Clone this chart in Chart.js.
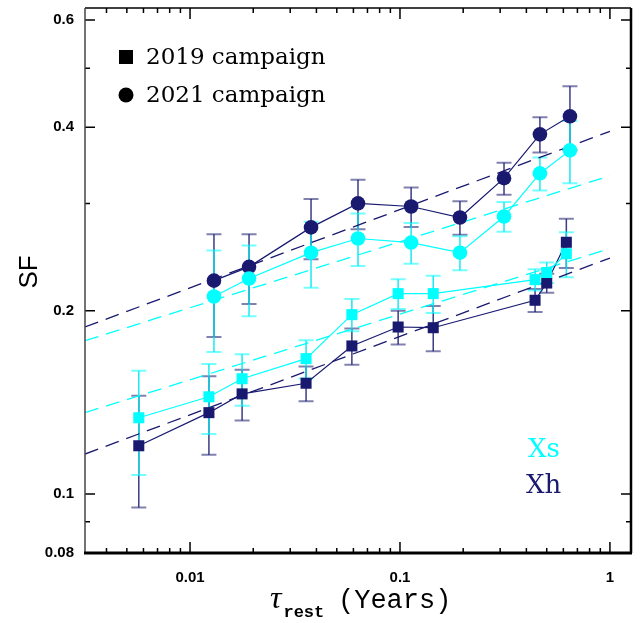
<!DOCTYPE html>
<html>
<head>
<meta charset="utf-8">
<script src="https://cdn.jsdelivr.net/npm/chart.js@4.4.0/dist/chart.umd.min.js"></script>
<style>
  html, body { margin: 0; padding: 0; background: #fff; }
  canvas { display: block; }
</style>
</head>
<body>
<canvas id="sf" width="643" height="623"></canvas>
<script>
// rest-frame time lags (years) for each campaign
const lag2019 = [0.0057, 0.0123, 0.0177, 0.0357, 0.059, 0.098, 0.144, 0.44, 0.50, 0.62];
const lag2021 = [0.0130, 0.0191, 0.0377, 0.0631, 0.113, 0.193, 0.313, 0.464, 0.645];

// structure function values and errors
const xh2019 = [0.120, 0.136, 0.146, 0.152, 0.175, 0.188, 0.1875, 0.208, 0.222, 0.259];
const xh2019Err = [0.025, 0.020, 0.014, 0.010, 0.012, 0.012, 0.016, 0.009, 0.008, 0.024];
const xs2019 = [0.1334, 0.1444, 0.1546, 0.1668, 0.197, 0.2133, 0.2133, 0.2249, 0.231, 0.248];
const xs2019Err = [0.026, 0.019, 0.015, 0.012, 0.012, 0.012, 0.015, 0.009, 0.009, 0.021];

const xh2021 = [0.224, 0.236, 0.274, 0.300, 0.2965, 0.2844, 0.330, 0.3895, 0.417];
const xh2021Err = [0.043, 0.031, 0.031, 0.028, 0.022, 0.018, 0.020, 0.026, 0.050];
const xs2021 = [0.211, 0.2258, 0.249, 0.2627, 0.2587, 0.249, 0.2855, 0.336, 0.3666];
const xs2021Err = [0.040, 0.030, 0.031, 0.026, 0.020, 0.016, 0.016, 0.021, 0.043];

// power-law fits, evaluated at the ends of the lag range
const fitLag = [0.00316, 1];
const fitXh2021 = [0.188, 0.394];
const fitXs2021 = [0.1785, 0.333];
const fitXs2019 = [0.136, 0.253];
const fitXh2019 = [0.1163, 0.244];

// axis ticks
const xMajor = [0.01, 0.1, 1];
const xTickLabels = ['0.01', '0.1', '1'];
const yMajor = [0.08, 0.1, 0.2, 0.4, 0.6];
const yTickLabels = ['0.08', '0.1', '0.2', '0.4', '0.6'];
const yMinor = [0.09, 0.3, 0.5];

const NAVY = '#191970';
const CYAN = '#00ffff';

const pts = (xs, ys) => xs.map((x, i) => ({ x: x, y: ys[i] }));

const xMinor = [];
[0.001, 0.01, 0.1].forEach(d => {
  for (let k = 2; k <= 9; k++) xMinor.push(d * k);
});

const errGroups = [
  { lag: lag2019, vals: xh2019, errs: xh2019Err, stem: 'rgba(25,25,112,0.85)', cap: 'rgba(25,25,112,0.55)' },
  { lag: lag2021, vals: xh2021, errs: xh2021Err, stem: 'rgba(25,25,112,0.85)', cap: 'rgba(25,25,112,0.55)' },
  { lag: lag2019, vals: xs2019, errs: xs2019Err, stem: 'rgba(0,230,240,0.9)', cap: 'rgba(0,255,255,0.55)' },
  { lag: lag2021, vals: xs2021, errs: xs2021Err, stem: 'rgba(0,230,240,0.9)', cap: 'rgba(0,255,255,0.55)' }
];

const errorBars = {
  id: 'errorBars',
  beforeDatasetsDraw(chart) {
    const { ctx, scales: { x, y } } = chart;
    ctx.save();
    errGroups.forEach(g => {
      g.lag.forEach((t, i) => {
        const px = x.getPixelForValue(t);
        const top = y.getPixelForValue(g.vals[i] + g.errs[i]);
        const bot = y.getPixelForValue(g.vals[i] - g.errs[i]);
        ctx.strokeStyle = g.stem;
        ctx.lineWidth = 1.5;
        ctx.beginPath();
        ctx.moveTo(px, top);
        ctx.lineTo(px, bot);
        ctx.stroke();
        ctx.strokeStyle = g.cap;
        ctx.lineWidth = 2;
        ctx.beginPath();
        ctx.moveTo(px - 7.5, top); ctx.lineTo(px + 7.5, top);
        ctx.moveTo(px - 7.5, bot); ctx.lineTo(px + 7.5, bot);
        ctx.stroke();
      });
    });
    ctx.restore();
  }
};

const frame = {
  id: 'frame',
  afterDraw(chart) {
    const { ctx, chartArea: a, scales: { x, y } } = chart;
    ctx.save();
    ctx.strokeStyle = '#000';

    // ticks on all four sides, pointing inward
    ctx.lineWidth = 1.5;
    ctx.beginPath();
    const xt = (v, len) => {
      const px = x.getPixelForValue(v);
      ctx.moveTo(px, a.bottom); ctx.lineTo(px, a.bottom - len);
      ctx.moveTo(px, a.top); ctx.lineTo(px, a.top + len);
    };
    const yt = (v, len) => {
      const py = y.getPixelForValue(v);
      ctx.moveTo(a.left, py); ctx.lineTo(a.left + len, py);
      ctx.moveTo(a.right, py); ctx.lineTo(a.right - len, py);
    };
    xMajor.forEach(v => xt(v, 11));
    xMinor.forEach(v => { if (v > x.min) xt(v, 5); });
    yMajor.forEach(v => yt(v, 10));
    yMinor.forEach(v => yt(v, 5));
    ctx.stroke();

    // box
    ctx.lineWidth = 1.5;
    ctx.beginPath();
    ctx.moveTo(a.left, a.top); ctx.lineTo(a.right, a.top);
    ctx.stroke();
    ctx.strokeStyle = '#444';
    ctx.beginPath();
    ctx.moveTo(a.left, a.top); ctx.lineTo(a.left, a.bottom);
    ctx.stroke();
    ctx.strokeStyle = '#000';
    ctx.lineWidth = 2.5;
    ctx.beginPath();
    ctx.moveTo(a.right, a.top); ctx.lineTo(a.right, a.bottom);
    ctx.stroke();
    ctx.lineWidth = 3;
    ctx.beginPath();
    ctx.moveTo(a.left - 1, a.bottom); ctx.lineTo(a.right + 1, a.bottom);
    ctx.stroke();

    // campaign key
    ctx.fillStyle = '#000';
    ctx.fillRect(119, 50, 14, 14);
    ctx.beginPath();
    ctx.arc(126, 95, 7.5, 0, Math.PI * 2);
    ctx.fill();
    ctx.font = '23px "DejaVu Serif"';
    ctx.textBaseline = 'alphabetic';
    ctx.textAlign = 'left';
    ctx.fillText('2019 campaign', 146, 64);
    ctx.fillText('2021 campaign', 146, 102);

    // band labels
    ctx.font = '26px "DejaVu Serif"';
    ctx.fillStyle = CYAN;
    ctx.fillText('Xs', 528, 457);
    ctx.fillStyle = NAVY;
    ctx.fillText('Xh', 526, 493);

    // axis titles
    ctx.fillStyle = '#000';
    ctx.save();
    ctx.translate(37, 272);
    ctx.rotate(-Math.PI / 2);
    ctx.textAlign = 'center';
    ctx.font = '26px "Liberation Sans"';
    ctx.fillText('SF', 0, 0);
    ctx.restore();

    let cx = 270;
    ctx.font = 'italic 32px "Liberation Serif"';
    ctx.fillText('τ', cx, 608);
    cx += ctx.measureText('τ').width + 2;
    ctx.font = 'bold 17px "Liberation Mono"';
    ctx.fillText('rest', cx, 617);
    ctx.font = '27px "Liberation Mono"';
    ctx.fillText('(Years)', 338, 608);

    ctx.restore();
  }
};

const tickFont = { family: '"Liberation Sans"', size: 15, weight: 'bold' };

new Chart(document.getElementById('sf'), {
  type: 'line',
  data: {
    datasets: [
      { data: pts(lag2021, xs2021), borderColor: CYAN, backgroundColor: CYAN, borderWidth: 1.2,
        pointStyle: 'circle', pointRadius: 7.3, pointBorderWidth: 0 },
      { data: pts(lag2019, xs2019), borderColor: CYAN, backgroundColor: CYAN, borderWidth: 1.2,
        pointStyle: 'rect', pointRadius: 7.8, pointBorderWidth: 0 },
      { data: pts(lag2021, xh2021), borderColor: NAVY, backgroundColor: NAVY, borderWidth: 1.2,
        pointStyle: 'circle', pointRadius: 7.3, pointBorderWidth: 0 },
      { data: pts(lag2019, xh2019), borderColor: NAVY, backgroundColor: NAVY, borderWidth: 1.2,
        pointStyle: 'rect', pointRadius: 7.8, pointBorderWidth: 0 },
      { data: pts(fitLag, fitXh2021), borderColor: NAVY, borderWidth: 1.3, borderDash: [14, 8], pointRadius: 0 },
      { data: pts(fitLag, fitXs2021), borderColor: CYAN, borderWidth: 1.3, borderDash: [14, 8], pointRadius: 0 },
      { data: pts(fitLag, fitXs2019), borderColor: CYAN, borderWidth: 1.3, borderDash: [14, 8], pointRadius: 0 },
      { data: pts(fitLag, fitXh2019), borderColor: NAVY, borderWidth: 1.3, borderDash: [14, 8], pointRadius: 0 }
    ]
  },
  options: {
    responsive: false,
    animation: false,
    devicePixelRatio: 1,
    layout: { padding: { top: 8, right: 12, left: 0, bottom: 0 } },
    plugins: { legend: { display: false }, tooltip: { enabled: false } },
    scales: {
      x: {
        type: 'logarithmic',
        min: 0.00316,
        max: 1.26,
        grid: { display: false },
        border: { display: false },
        afterBuildTicks: s => { s.ticks = xMajor.map(v => ({ value: v })); },
        afterFit: s => { s.height = 70; s.paddingLeft = 0; s.paddingRight = 0; },
        ticks: { color: '#000', font: tickFont, padding: 8, maxRotation: 0, autoSkip: false,
          callback: (v, i) => xTickLabels[i] }
      },
      y: {
        type: 'logarithmic',
        min: 0.08,
        max: 0.628,
        grid: { display: false },
        border: { display: false },
        afterBuildTicks: s => { s.ticks = yMajor.map(v => ({ value: v })); },
        afterFit: s => { s.width = 85; s.paddingTop = 0; s.paddingBottom = 0; },
        ticks: { color: '#000', font: tickFont, padding: 3, autoSkip: false,
          callback: (v, i) => yTickLabels[i] }
      }
    }
  },
  plugins: [errorBars, frame]
});
</script>
</body>
</html>
